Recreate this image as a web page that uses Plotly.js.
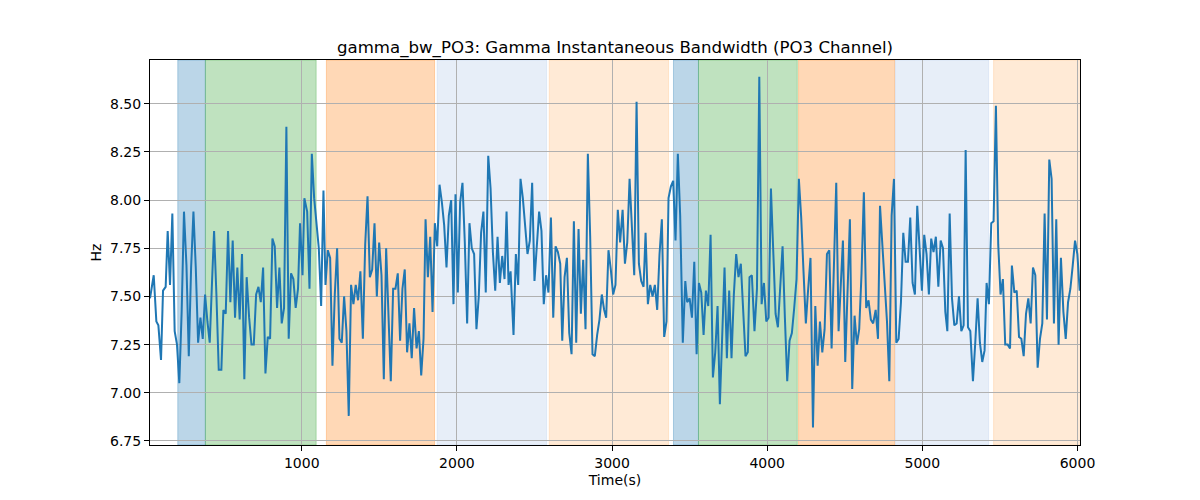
<!DOCTYPE html>
<html>
<head>
<meta charset="utf-8">
<script src="https://cdn.plot.ly/plotly-3.0.1.min.js"></script>
<style>
  html, body { margin: 0; padding: 0; background: #fff; }
  #plot { width: 1200px; height: 500px; }
</style>
</head>
<body>
<div id="plot"></div>
<script>
// time axis (s) and gamma bandwidth (Hz)
const timeS = [
  22, 46, 63, 76, 93, 106, 123, 136, 151, 166, 181, 196, 211, 226, 241, 257, 272, 287, 302, 317,
  332, 347, 362, 377, 392, 407, 422, 435, 450, 465, 482, 495, 510, 525, 540, 555, 570, 585, 600, 615,
  630, 645, 661, 676, 691, 706, 721, 736, 751, 766, 781, 796, 811, 826, 841, 856, 871, 886, 901, 916,
  931, 946, 961, 976, 989, 1005, 1017, 1035, 1050, 1065, 1080, 1095, 1110, 1125, 1140, 1153, 1168, 1183, 1198, 1213,
  1228, 1243, 1258, 1273, 1288, 1303, 1318, 1333, 1348, 1363, 1378, 1394, 1409, 1424, 1439, 1454, 1469, 1484, 1499, 1514,
  1529, 1544, 1559, 1574, 1589, 1604, 1619, 1634, 1649, 1664, 1679, 1694, 1709, 1724, 1740, 1755, 1770, 1785, 1798, 1813,
  1828, 1843, 1858, 1873, 1888, 1903, 1918, 1933, 1948, 1963, 1978, 1991, 2006, 2021, 2036, 2051, 2066, 2081, 2096, 2111,
  2126, 2141, 2156, 2171, 2186, 2202, 2217, 2232, 2247, 2262, 2277, 2292, 2307, 2320, 2333, 2346, 2365, 2380, 2395, 2410,
  2425, 2440, 2455, 2470, 2485, 2500, 2515, 2530, 2545, 2560, 2575, 2590, 2606, 2621, 2636, 2651, 2666, 2679, 2694, 2709,
  2724, 2739, 2754, 2769, 2784, 2799, 2814, 2829, 2844, 2859, 2874, 2889, 2904, 2919, 2934, 2949, 2962, 2977, 2992, 3007,
  3022, 3037, 3052, 3068, 3083, 3098, 3113, 3128, 3143, 3158, 3173, 3188, 3203, 3216, 3231, 3246, 3261, 3276, 3291, 3306,
  3321, 3336, 3351, 3364, 3379, 3394, 3409, 3424, 3439, 3456, 3472, 3484, 3500, 3515, 3530, 3545, 3560, 3575, 3590, 3605,
  3620, 3635, 3650, 3665, 3680, 3695, 3710, 3725, 3740, 3755, 3770, 3785, 3800, 3815, 3830, 3845, 3860, 3875, 3886, 3901,
  3918, 3934, 3949, 3964, 3979, 3994, 4009, 4024, 4039, 4054, 4069, 4084, 4099, 4114, 4129, 4144, 4159, 4174, 4189, 4204,
  4219, 4234, 4249, 4264, 4279, 4295, 4310, 4325, 4340, 4355, 4370, 4385, 4400, 4415, 4430, 4445, 4460, 4475, 4488, 4503,
  4518, 4533, 4548, 4563, 4578, 4593, 4608, 4623, 4638, 4653, 4668, 4683, 4699, 4714, 4727, 4742, 4757, 4772, 4787, 4802,
  4817, 4832, 4847, 4862, 4877, 4892, 4907, 4922, 4937, 4952, 4967, 4982, 4997, 5012, 5027, 5042, 5057, 5072, 5087, 5103,
  5118, 5133, 5148, 5161, 5176, 5191, 5206, 5221, 5236, 5251, 5266, 5279, 5294, 5309, 5326, 5341, 5356, 5371, 5386, 5401,
  5414, 5429, 5444, 5459, 5474, 5489, 5504, 5519, 5534, 5550, 5565, 5577, 5593, 5608, 5623, 5638, 5653, 5668, 5683, 5698,
  5713, 5728, 5743, 5758, 5773, 5788, 5803, 5818, 5833, 5848, 5863, 5878, 5893, 5909, 5924, 5939, 5954, 5969, 5984, 5999,
  6014
];

const bandwidthHz = [
  7.49, 7.61, 7.37, 7.35, 7.17, 7.53, 7.55, 7.84, 7.56, 7.93, 7.32, 7.25, 7.05, 7.42, 7.94, 7.66, 7.19, 7.65, 7.94, 7.65,
  7.26, 7.39, 7.28, 7.51, 7.37, 7.26, 7.58, 7.84, 7.51, 7.12, 7.12, 7.43, 7.41, 7.84, 7.47, 7.79, 7.39, 7.65, 7.38, 7.72,
  7.07, 7.60, 7.39, 7.25, 7.25, 7.51, 7.55, 7.47, 7.65, 7.10, 7.29, 7.28, 7.80, 7.76, 7.44, 7.65, 7.36, 7.44, 8.38, 7.28,
  7.62, 7.59, 7.44, 7.54, 7.88, 7.61, 8.01, 7.94, 7.54, 8.24, 8.01, 7.87, 7.75, 7.45, 8.05, 7.56, 7.74, 7.70, 7.14, 7.51,
  7.75, 7.28, 7.26, 7.50, 7.32, 6.88, 7.56, 7.46, 7.56, 7.48, 7.63, 7.28, 7.77, 8.02, 7.60, 7.64, 7.88, 7.50, 7.78, 7.61,
  7.07, 7.75, 7.44, 7.06, 7.54, 7.54, 7.62, 7.27, 7.54, 7.64, 7.21, 7.36, 7.18, 7.44, 7.23, 7.32, 7.09, 7.28, 7.90, 7.60,
  7.81, 7.42, 7.88, 7.76, 8.08, 7.99, 7.87, 7.65, 7.92, 8.00, 7.46, 8.03, 7.52, 7.99, 8.09, 7.78, 7.36, 7.88, 7.75, 7.72,
  7.33, 7.50, 7.83, 7.94, 7.52, 8.23, 8.06, 7.73, 7.53, 7.81, 7.57, 7.71, 7.59, 7.94, 7.56, 7.63, 7.30, 7.72, 7.56, 8.11,
  8.01, 7.87, 7.72, 7.79, 8.09, 7.58, 7.75, 7.94, 7.84, 7.46, 7.61, 7.52, 7.91, 7.39, 7.76, 7.73, 7.67, 7.27, 7.60, 7.70,
  7.31, 7.20, 7.89, 7.26, 7.85, 7.41, 7.69, 7.33, 8.24, 7.81, 7.20, 7.19, 7.30, 7.38, 7.51, 7.43, 7.39, 7.74, 7.64, 7.51,
  7.56, 7.95, 7.78, 7.95, 7.67, 7.78, 8.11, 7.83, 7.61, 8.51, 7.67, 7.58, 7.55, 7.83, 7.46, 7.56, 7.50, 7.56, 7.43, 7.72,
  7.90, 7.29, 7.37, 8.01, 8.07, 8.10, 7.79, 8.24, 7.92, 7.26, 7.58, 7.47, 7.49, 7.39, 7.68, 7.20, 7.57, 7.52, 7.30, 7.53,
  7.45, 7.82, 7.08, 7.21, 7.45, 6.94, 7.26, 7.65, 7.18, 7.53, 7.18, 7.51, 7.72, 7.60, 7.67, 7.44, 7.19, 7.21, 7.60, 7.61,
  7.32, 7.54, 8.64, 7.46, 7.57, 7.37, 7.39, 8.06, 7.73, 7.41, 7.34, 7.58, 7.76, 7.39, 7.06, 7.27, 7.31, 7.44, 7.59, 8.11,
  7.91, 7.63, 7.36, 7.54, 7.70, 6.82, 7.45, 7.14, 7.37, 7.21, 7.33, 7.72, 7.74, 7.23, 7.65, 8.09, 7.32, 7.58, 7.79, 7.16,
  7.58, 7.90, 7.02, 7.40, 7.25, 7.33, 7.62, 8.04, 7.44, 7.48, 7.38, 7.36, 7.43, 7.28, 7.97, 7.75, 7.53, 7.37, 7.06, 7.92,
  8.11, 7.26, 7.28, 7.47, 7.83, 7.68, 7.68, 7.91, 7.57, 7.51, 7.97, 7.73, 7.53, 7.82, 7.72, 7.51, 7.80, 7.73, 7.81, 7.55,
  7.79, 7.75, 7.42, 7.32, 7.93, 7.49, 7.35, 7.36, 7.50, 7.32, 7.35, 8.26, 7.34, 7.32, 7.06, 7.26, 7.49, 7.26, 7.16, 7.22,
  7.57, 7.46, 7.88, 7.89, 8.49, 7.77, 7.51, 7.59, 7.25, 7.25, 7.23, 7.66, 7.52, 7.53, 7.29, 7.28, 7.19, 7.41, 7.49, 7.36,
  7.65, 7.61, 7.13, 7.28, 7.36, 7.93, 7.38, 8.21, 8.11, 7.36, 7.90, 7.25, 7.70, 7.42, 7.28, 7.47, 7.54, 7.66, 7.79, 7.72,
  7.53
];

// shaded phases
const spanStart = [201, 379, 1159, 1873, 2595, 3396, 3557, 4202, 4825, 5459];
const spanEnd   = [379, 1093, 1856, 2578, 3364, 3557, 4194, 4821, 5427, 6030];
const spanColor = ['#1f77b4', '#2ca02c', '#ff7f0e', '#aec7e8', '#ffbb78',
                   '#1f77b4', '#2ca02c', '#ff7f0e', '#aec7e8', '#ffbb78'];

const yTicks = [6.75, 7.00, 7.25, 7.50, 7.75, 8.00, 8.25, 8.50];
const xTicks = [1000, 2000, 3000, 4000, 5000, 6000];

function rgba(hex, a) {
  const n = parseInt(hex.slice(1), 16);
  return `rgba(${(n >> 16) & 255},${(n >> 8) & 255},${n & 255},${a})`;
}

const shapes = spanStart.map((s, i) => ({
  type: 'rect',
  xref: 'x', yref: 'paper',
  x0: s, x1: spanEnd[i], y0: 0, y1: 1,
  fillcolor: rgba(spanColor[i], 0.3),
  line: { color: rgba(spanColor[i], 0.3), width: 1 },
  layer: 'below'
}));

const font = 'DejaVu Sans, sans-serif';

const data = [{
  type: 'scatter',
  mode: 'lines',
  x: timeS,
  y: bandwidthHz,
  line: { color: '#1f77b4', width: 2 },
  hoverinfo: 'x+y'
}];

const layout = {
  width: 1200,
  height: 500,
  paper_bgcolor: '#fff',
  plot_bgcolor: '#fff',
  showlegend: false,
  margin: { l: 150, r: 120, t: 60, b: 55 },
  font: { family: font, size: 14, color: '#000' },
  title: {
    text: 'gamma_bw_PO3: Gamma Instantaneous Bandwidth (PO3 Channel)',
    font: { family: font, size: 16.6, color: '#000' },
    x: 0.5, xref: 'paper', xanchor: 'center',
    y: 1, yref: 'paper', yanchor: 'bottom',
    pad: { b: 7 }
  },
  xaxis: {
    range: [22, 6016],
    tickvals: xTicks,
    ticktext: xTicks.map(String),
    ticks: 'outside', ticklen: 5, tickwidth: 1, tickcolor: '#000',
    showgrid: true, gridcolor: '#b0b0b0', gridwidth: 1,
    zeroline: false,
    showline: true, linecolor: '#000', linewidth: 1, mirror: true,
    tickfont: { family: font, size: 14 },
    title: { text: 'Time(s)', font: { family: font, size: 14 }, standoff: 5 }
  },
  yaxis: {
    range: [6.729, 8.727],
    tickvals: yTicks,
    ticktext: yTicks.map(v => v.toFixed(2)),
    ticks: 'outside', ticklen: 5, tickwidth: 1, tickcolor: '#000',
    showgrid: true, gridcolor: '#b0b0b0', gridwidth: 1,
    zeroline: false,
    showline: true, linecolor: '#000', linewidth: 1, mirror: true,
    tickfont: { family: font, size: 14 },
    title: { text: 'Hz', font: { family: font, size: 14 }, standoff: 5 }
  },
  shapes: shapes
};

Plotly.newPlot('plot', data, layout, { displayModeBar: false, staticPlot: true });
</script>
</body>
</html>
